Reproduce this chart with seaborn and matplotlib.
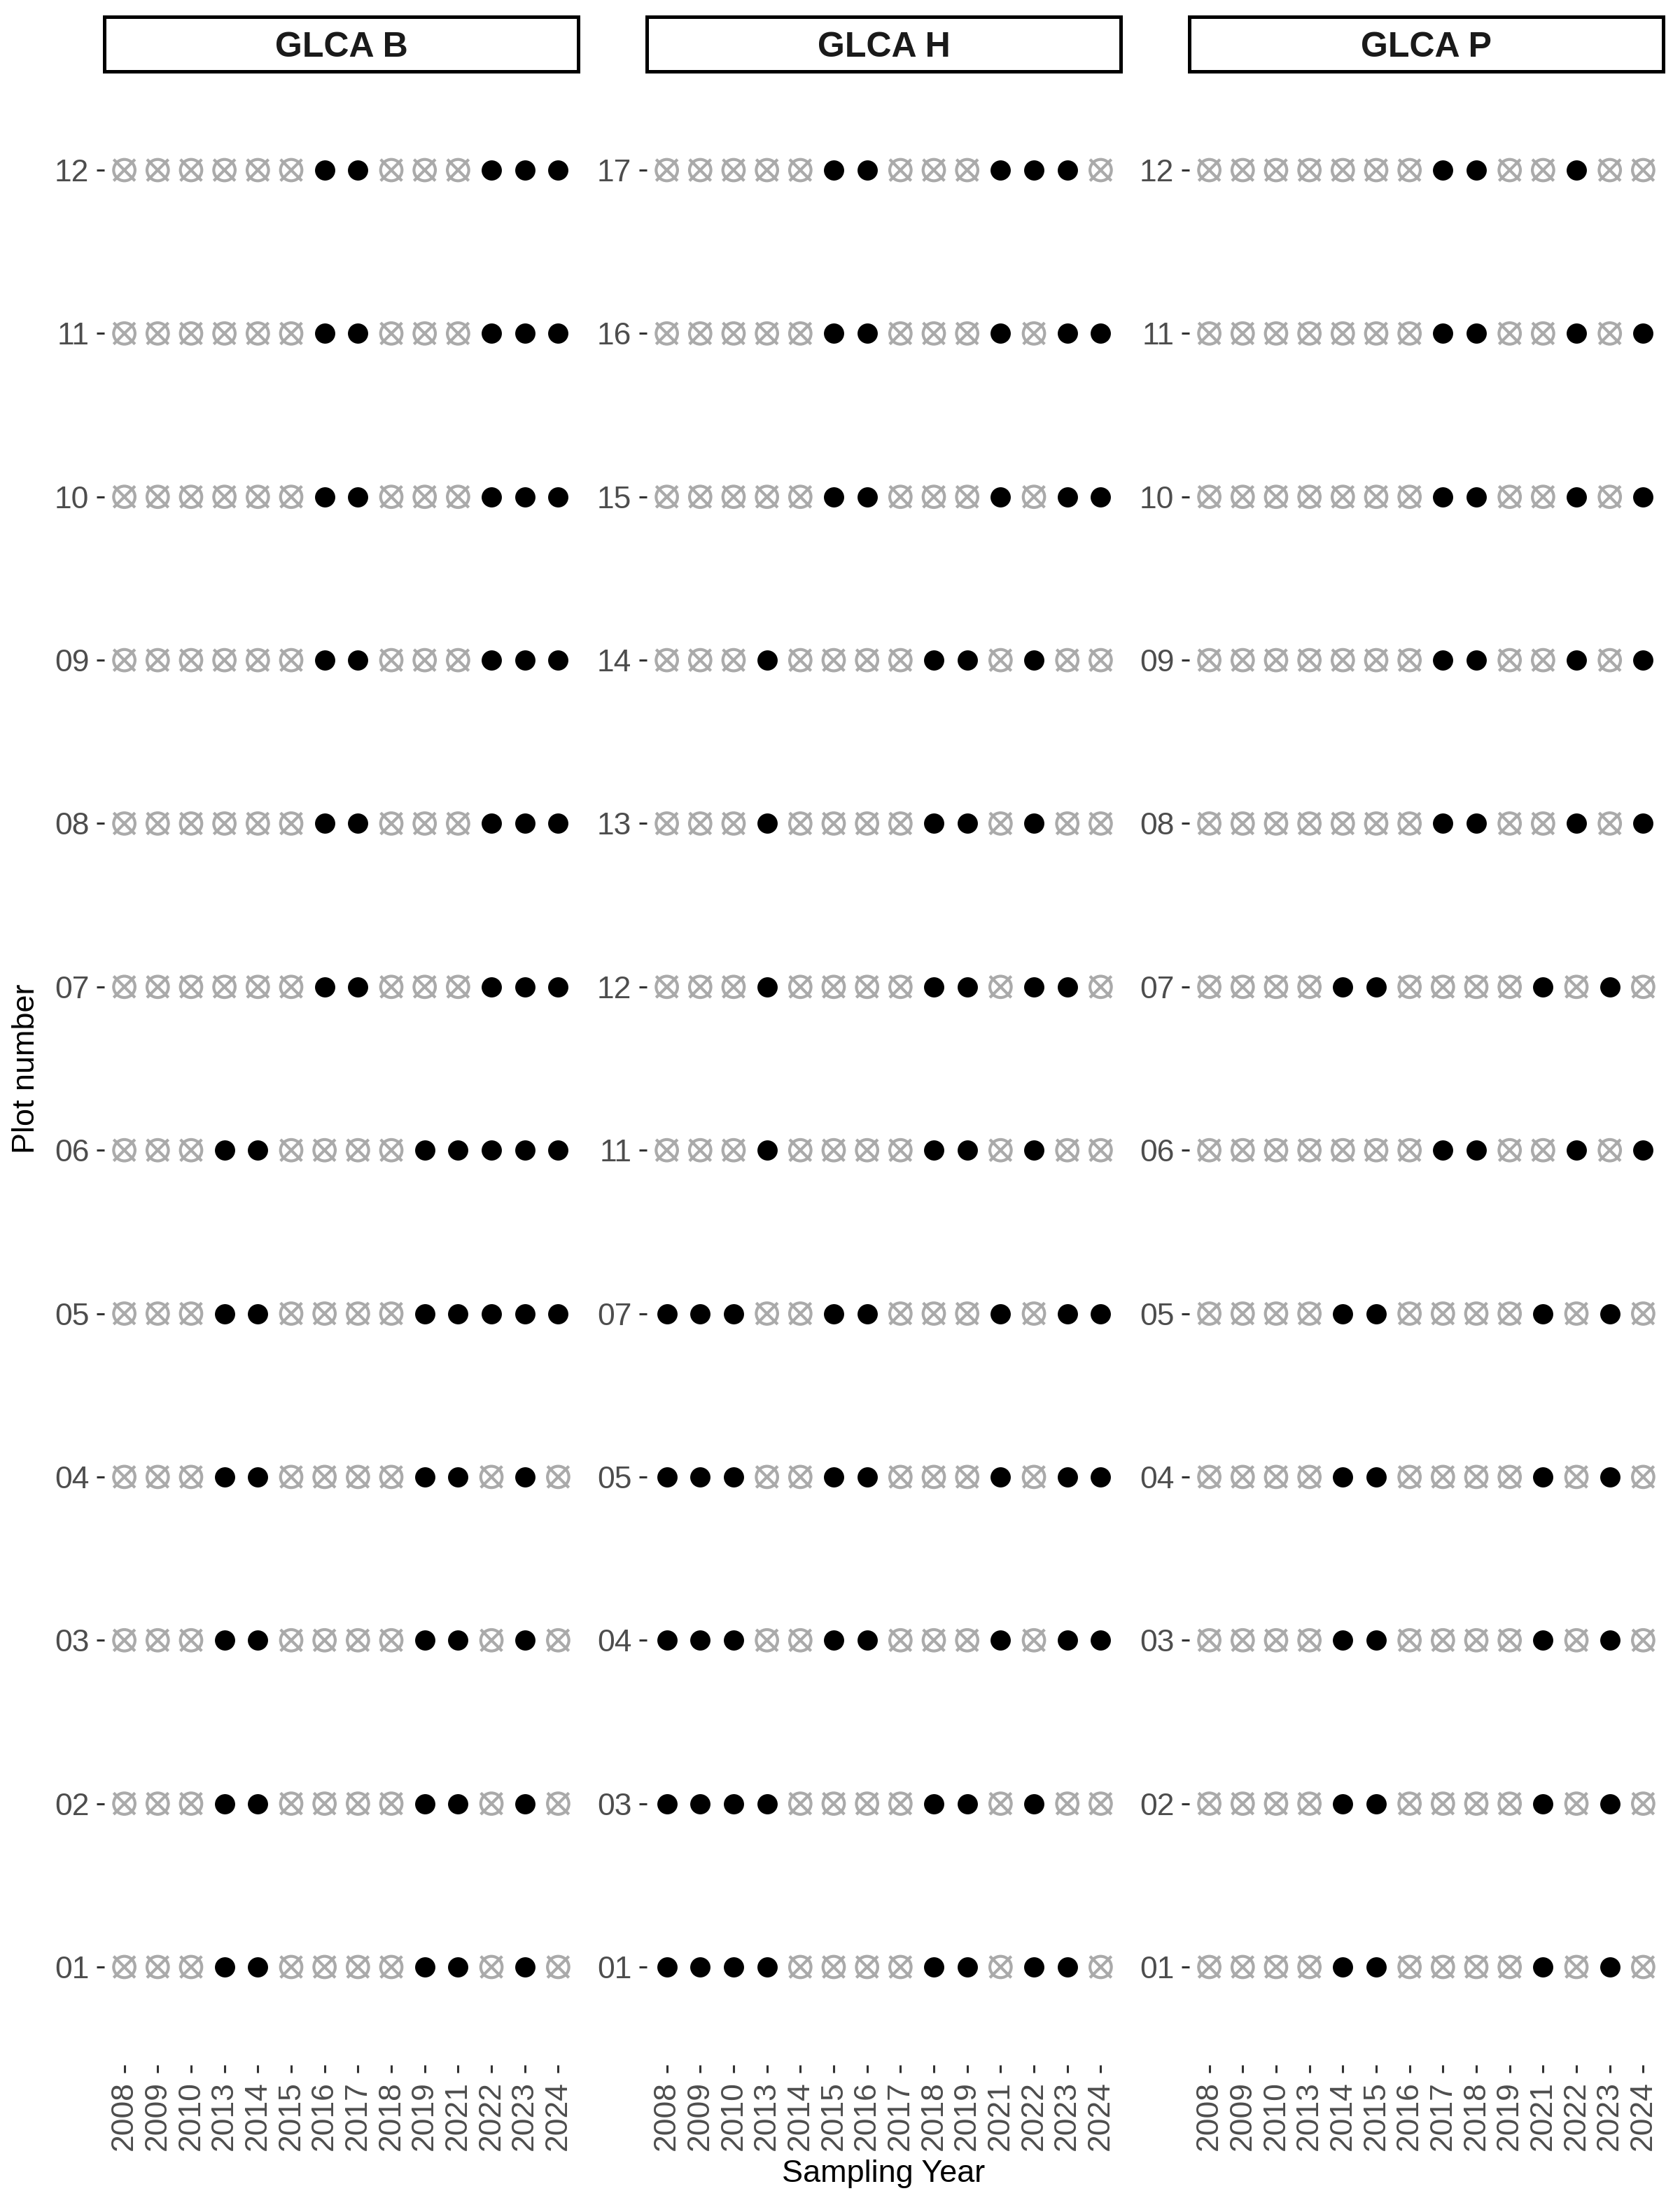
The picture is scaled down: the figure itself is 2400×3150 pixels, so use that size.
import numpy as np
import pandas as pd
import matplotlib
matplotlib.use("Agg")
import matplotlib.pyplot as plt
from matplotlib.path import Path
import seaborn as sns

# ---------------- data ----------------
years = ["2008", "2009", "2010", "2013", "2014", "2015", "2016",
         "2017", "2018", "2019", "2021", "2022", "2023", "2024"]

sites = ["GLCA B", "GLCA H", "GLCA P"]

plots_B = ["01", "02", "03", "04", "05", "06", "07", "08", "09", "10", "11", "12"]
plots_H = ["01", "03", "04", "05", "07", "11", "12", "13", "14", "15", "16", "17"]
plots_P = ["01", "02", "03", "04", "05", "06", "07", "08", "09", "10", "11", "12"]

# 1 = sampled (filled dot), 0 = not sampled (crossed circle); columns follow `years`
sampled_B = [
    [0, 0, 0, 1, 1, 0, 0, 0, 0, 1, 1, 0, 1, 0],  # 01
    [0, 0, 0, 1, 1, 0, 0, 0, 0, 1, 1, 0, 1, 0],  # 02
    [0, 0, 0, 1, 1, 0, 0, 0, 0, 1, 1, 0, 1, 0],  # 03
    [0, 0, 0, 1, 1, 0, 0, 0, 0, 1, 1, 0, 1, 0],  # 04
    [0, 0, 0, 1, 1, 0, 0, 0, 0, 1, 1, 1, 1, 1],  # 05
    [0, 0, 0, 1, 1, 0, 0, 0, 0, 1, 1, 1, 1, 1],  # 06
    [0, 0, 0, 0, 0, 0, 1, 1, 0, 0, 0, 1, 1, 1],  # 07
    [0, 0, 0, 0, 0, 0, 1, 1, 0, 0, 0, 1, 1, 1],  # 08
    [0, 0, 0, 0, 0, 0, 1, 1, 0, 0, 0, 1, 1, 1],  # 09
    [0, 0, 0, 0, 0, 0, 1, 1, 0, 0, 0, 1, 1, 1],  # 10
    [0, 0, 0, 0, 0, 0, 1, 1, 0, 0, 0, 1, 1, 1],  # 11
    [0, 0, 0, 0, 0, 0, 1, 1, 0, 0, 0, 1, 1, 1],  # 12
]
sampled_H = [
    [1, 1, 1, 1, 0, 0, 0, 0, 1, 1, 0, 1, 1, 0],  # 01
    [1, 1, 1, 1, 0, 0, 0, 0, 1, 1, 0, 1, 0, 0],  # 03
    [1, 1, 1, 0, 0, 1, 1, 0, 0, 0, 1, 0, 1, 1],  # 04
    [1, 1, 1, 0, 0, 1, 1, 0, 0, 0, 1, 0, 1, 1],  # 05
    [1, 1, 1, 0, 0, 1, 1, 0, 0, 0, 1, 0, 1, 1],  # 07
    [0, 0, 0, 1, 0, 0, 0, 0, 1, 1, 0, 1, 0, 0],  # 11
    [0, 0, 0, 1, 0, 0, 0, 0, 1, 1, 0, 1, 1, 0],  # 12
    [0, 0, 0, 1, 0, 0, 0, 0, 1, 1, 0, 1, 0, 0],  # 13
    [0, 0, 0, 1, 0, 0, 0, 0, 1, 1, 0, 1, 0, 0],  # 14
    [0, 0, 0, 0, 0, 1, 1, 0, 0, 0, 1, 0, 1, 1],  # 15
    [0, 0, 0, 0, 0, 1, 1, 0, 0, 0, 1, 0, 1, 1],  # 16
    [0, 0, 0, 0, 0, 1, 1, 0, 0, 0, 1, 1, 1, 0],  # 17
]
sampled_P = [
    [0, 0, 0, 0, 1, 1, 0, 0, 0, 0, 1, 0, 1, 0],  # 01
    [0, 0, 0, 0, 1, 1, 0, 0, 0, 0, 1, 0, 1, 0],  # 02
    [0, 0, 0, 0, 1, 1, 0, 0, 0, 0, 1, 0, 1, 0],  # 03
    [0, 0, 0, 0, 1, 1, 0, 0, 0, 0, 1, 0, 1, 0],  # 04
    [0, 0, 0, 0, 1, 1, 0, 0, 0, 0, 1, 0, 1, 0],  # 05
    [0, 0, 0, 0, 0, 0, 0, 1, 1, 0, 0, 1, 0, 1],  # 06
    [0, 0, 0, 0, 1, 1, 0, 0, 0, 0, 1, 0, 1, 0],  # 07
    [0, 0, 0, 0, 0, 0, 0, 1, 1, 0, 0, 1, 0, 1],  # 08
    [0, 0, 0, 0, 0, 0, 0, 1, 1, 0, 0, 1, 0, 1],  # 09
    [0, 0, 0, 0, 0, 0, 0, 1, 1, 0, 0, 1, 0, 1],  # 10
    [0, 0, 0, 0, 0, 0, 0, 1, 1, 0, 0, 1, 0, 1],  # 11
    [0, 0, 0, 0, 0, 0, 0, 1, 1, 0, 0, 1, 0, 0],  # 12
]

site_plots = {"GLCA B": plots_B, "GLCA H": plots_H, "GLCA P": plots_P}
site_sampled = {"GLCA B": sampled_B, "GLCA H": sampled_H, "GLCA P": sampled_P}

# ---------------- style ----------------
sns.set_theme(style="white")
plt.rcParams["font.family"] = ["Liberation Sans", "DejaVu Sans"]

W, H = 2400, 3150
DPI = 200
fig = plt.figure(figsize=(W / DPI, H / DPI), dpi=DPI)
fig.patch.set_facecolor("white")

# crossed-circle marker (like R pch 13)
circ = Path.unit_circle()
xverts = np.vstack([circ.vertices, [[-1, -1], [1, 1], [-1, 1], [1, -1]]])
xcodes = list(circ.codes) + [Path.MOVETO, Path.LINETO, Path.MOVETO, Path.LINETO]
xmark = Path(xverts, xcodes)

panel_left_px = [149, 924, 1699]
panel_w_px = 677
panel_top_px, panel_bot_px = 103, 2950
strip_top_px, strip_bot_px = 24, 102

tick_fs = 16
gray_txt = "#4D4D4D"

for i, site in enumerate(sites):
    plots = site_plots[site]
    mat = site_sampled[site]
    rows = []
    for p, vals in zip(plots, mat):
        for y, v in zip(years, vals):
            rows.append({"year": y, "plot": p, "sampled": v})
    df = pd.DataFrame(rows)
    df["year"] = pd.Categorical(df["year"], categories=years)
    df["plot"] = pd.Categorical(df["plot"], categories=plots)

    left = panel_left_px[i] / W
    ax = fig.add_axes([left, 1 - panel_bot_px / H, panel_w_px / W,
                       (panel_bot_px - panel_top_px) / H])

    sns.scatterplot(data=df[df["sampled"] == 1], x="year", y="plot", ax=ax,
                    color="black", s=10.4 ** 2, linewidth=0, legend=False,
                    zorder=3)
    sns.scatterplot(data=df[df["sampled"] == 0], x="year", y="plot", ax=ax,
                    marker=xmark, s=11.0 ** 2, facecolor="none",
                    edgecolor="#AAAAAA", linewidth=1.5, legend=False,
                    zorder=3)

    ax.set_xlim(-0.6, len(years) - 1 + 0.6)
    ax.set_ylim(-0.6, len(plots) - 1 + 0.6)
    ax.set_xlabel("")
    ax.set_ylabel("")
    ax.grid(False)
    for sp in ax.spines.values():
        sp.set_visible(False)
    ax.set_facecolor("white")
    ax.tick_params(axis="both", which="both", length=4.0, width=1.1,
                   color="#333333", labelcolor=gray_txt, labelsize=tick_fs,
                   pad=3.8, direction="out", bottom=True, left=True)
    ax.tick_params(axis="x", labelrotation=90, pad=4.3)

    # strip
    sax = fig.add_axes([left, 1 - strip_bot_px / H, panel_w_px / W,
                        (strip_bot_px - strip_top_px) / H])
    sax.set_xticks([])
    sax.set_yticks([])
    sax.set_facecolor("white")
    for sp in sax.spines.values():
        sp.set_visible(True)
        sp.set_color("black")
        sp.set_linewidth(1.8)
    sax.text(0.5, 0.5, site, ha="center", va="center_baseline", fontsize=18,
             fontweight="bold", color="#1A1A1A", transform=sax.transAxes)

# axis titles
fig.text((149 + 2376) / 2 / W, 1 - 3106 / H, "Sampling Year", ha="center",
         va="center", fontsize=16.2, color="black")
fig.text(38 / W, 1 - (panel_top_px + panel_bot_px) / 2 / H, "Plot number",
         ha="center", va="center", rotation=90, fontsize=16.2, color="black")

fig.savefig("out.png", dpi=DPI, facecolor="white")
